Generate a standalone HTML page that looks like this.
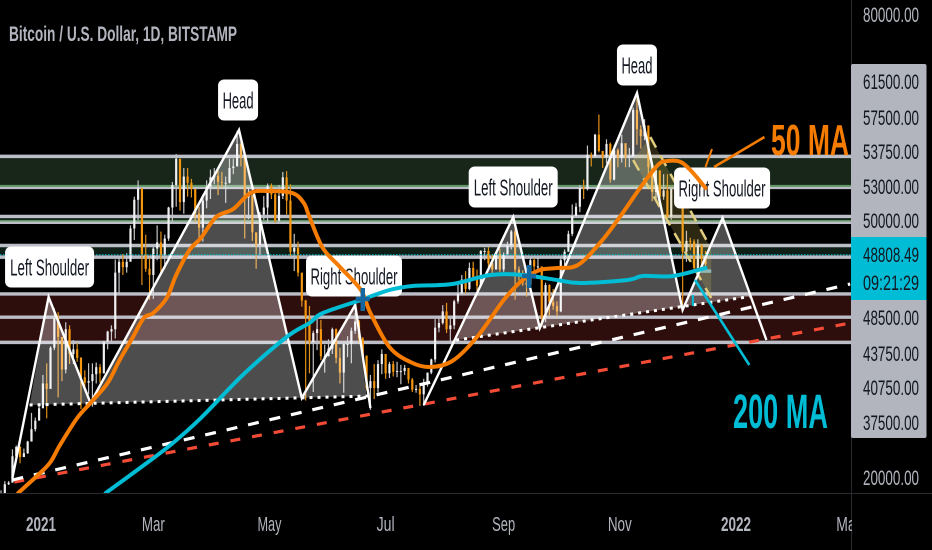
<!DOCTYPE html>
<html lang="en">
<head>
<meta charset="utf-8">
<title>Bitcoin / U.S. Dollar chart</title>
<style>
html,body{margin:0;padding:0;background:#000;width:932px;height:550px;overflow:hidden}
svg{display:block;font-family:"Liberation Sans",sans-serif}
</style>
</head>
<body>
<svg id="chart" xmlns="http://www.w3.org/2000/svg" width="932" height="550" viewBox="0 0 932 550">
  <defs><clipPath id="plot-clip"><rect x="0" y="0" width="851" height="493"/></clipPath></defs>
  <rect x="0" y="0" width="932" height="550" fill="#000"/>
  <g id="plot" clip-path="url(#plot-clip)"></g>
  <line x1="0" y1="493.5" x2="932" y2="493.5" stroke="#2a2b30"/>
  <line x1="851.5" y1="0" x2="851.5" y2="550" stroke="#2a2b30"/>

  <text x="9" y="41" font-size="21" font-weight="bold" fill="#b2b5be" textLength="228" lengthAdjust="spacingAndGlyphs">Bitcoin / U.S. Dollar, 1D, BITSTAMP</text>

  <text x="771" y="155" font-size="44" font-weight="bold" fill="#f57c00" textLength="78" lengthAdjust="spacingAndGlyphs">50 MA</text>
  <text x="733" y="428" font-size="48" font-weight="bold" fill="#00bcd4" textLength="95" lengthAdjust="spacingAndGlyphs">200 MA</text>

  <rect x="851" y="64" width="75.5" height="374" rx="2" fill="#b2b5be"/>
  <rect x="851" y="237" width="75.5" height="63" fill="#00bcd4"/>
  <g id="price-labels" font-size="21"></g>
  <g id="time-labels" font-size="20" fill="#b2b5be"></g>
</svg>
<script>
// Axis values
const timeLabels = ["2021", "Mar", "May", "Jul", "Sep", "Nov", "2022", "Mar"];
const timeLabelDays = [0, 59, 120, 181, 243, 304, 365, 424];
const priceLabels = ["80000.00", "61500.00", "57500.00", "53750.00", "53000.00", "50000.00", "48808.49", "09:21:29", "48500.00", "43750.00", "40750.00", "37500.00", "20000.00"];
// Horizontal support / resistance levels
const levels = [61500, 57500, 53750, 53000, 50000, 48500, 43750, 40750, 37500];
const currentPrice = 48808.49;
// Daily candles sampled every second day, in thousands of USD
const firstCandleDay = -21;
const closes = [
18.0,19.2,19.4,22.8,24.0,22.7,23.2,24.7,26.3,27.4,29.0,
32.2,31.5,36.8,40.6,38.2,34.0,39.2,36.0,36.6,35.5,33.0,32.3,32.5,33.4,34.3,
33.5,37.6,38.9,39.2,46.5,47.9,47.2,47.9,52.2,55.9,57.4,48.8,47.0,46.2,
49.6,50.4,48.8,50.9,54.9,57.8,61.2,55.6,58.9,58.1,57.3,54.1,52.3,55.8,57.6,58.8,
59.0,58.2,58.1,58.1,60.0,60.2,63.1,61.4,56.2,56.5,51.7,50.1,54.0,54.9,57.7,
56.6,53.2,56.4,58.8,55.8,49.2,49.7,46.5,42.9,40.7,37.5,38.7,39.2,35.7,35.7,
36.7,39.2,35.5,33.6,37.3,37.3,39.0,40.2,38.0,35.8,31.6,32.5,31.6,34.7,36.0,
33.5,34.7,33.7,33.8,33.8,34.2,32.7,31.4,31.5,30.8,32.1,33.6,35.3,39.4,40.0,41.5,
39.2,39.7,42.8,43.8,45.6,44.4,47.1,45.9,44.8,49.3,49.3,47.7,46.9,48.9,46.9,
48.8,50.0,51.8,46.9,46.1,45.2,44.9,48.1,47.3,47.3,40.7,44.9,42.7,42.2,41.5,
48.1,49.2,51.5,53.8,55.0,57.4,57.3,61.7,61.5,64.3,62.2,61.4,63.1,58.5,62.3,61.3,
63.2,61.4,61.5,67.5,65.0,64.1,65.5,60.1,56.9,59.7,56.3,57.1,53.7,57.3,57.0,
56.5,49.2,50.6,50.5,47.1,50.1,48.3,47.6];
const highs = [
18.4,19.6,19.6,23.7,24.2,24.1,23.8,24.8,28.4,27.8,29.3,
33.3,34.8,37.0,41.9,41.4,38.0,40.1,39.7,37.8,37.4,35.6,33.9,34.8,34.8,34.9,
34.7,37.7,39.0,39.7,48.2,48.6,48.9,49.0,52.6,56.3,58.4,54.2,51.4,48.4,
49.8,52.6,51.8,51.4,55.0,58.2,61.8,60.6,60.0,60.0,58.6,57.2,55.0,56.6,58.4,59.8,
60.0,59.8,59.5,58.9,61.2,61.2,64.8,63.5,60.4,57.5,55.4,51.2,54.3,56.4,58.0,
58.0,57.0,57.8,59.5,59.6,57.9,51.5,50.5,45.8,43.0,42.2,39.0,40.8,40.4,37.2,
37.9,39.4,39.3,36.8,37.6,38.3,39.4,41.3,40.4,38.2,35.6,33.3,34.7,35.2,36.6,
35.0,35.0,35.1,35.0,34.6,34.6,34.2,32.9,32.0,31.9,32.8,33.6,35.4,40.5,40.9,42.3,
42.6,40.6,43.0,45.3,46.2,46.7,47.8,47.9,46.9,49.4,49.7,49.8,48.9,49.2,49.6,
49.1,50.5,52.0,52.9,47.3,46.8,46.4,48.4,48.4,48.5,43.3,45.2,45.0,44.4,42.8,
48.5,49.5,51.9,55.3,55.5,57.8,58.5,62.9,62.0,64.4,66.9,61.7,63.7,63.3,62.9,62.5,
64.3,63.1,62.6,67.8,69.0,65.5,66.3,63.3,60.8,60.0,59.5,59.2,59.2,57.4,59.2,
57.3,53.9,51.9,51.0,50.8,50.8,48.6,49.3];
const lows = [
17.5,18.0,19.1,19.4,22.9,21.9,22.8,23.1,25.9,26.0,27.9,
29.0,27.7,33.9,36.5,30.4,32.5,33.5,34.7,34.7,35.0,28.9,31.4,30.8,29.2,32.2,
32.3,33.5,36.6,37.4,38.0,43.7,46.2,46.5,48.0,50.7,53.3,44.9,46.6,43.0,
43.1,48.1,46.4,47.0,50.6,53.1,55.0,54.5,54.1,56.3,56.2,53.0,51.0,50.5,54.8,56.0,
57.9,56.5,57.4,55.5,58.0,59.2,61.0,60.2,50.9,53.4,50.6,47.0,48.8,53.3,53.0,
56.0,52.9,53.0,56.0,54.0,48.6,46.7,46.0,42.1,30.0,33.5,31.1,36.5,35.2,33.6,
35.7,36.0,34.8,32.2,31.0,35.6,34.8,38.6,37.5,35.1,31.3,28.8,30.2,31.0,33.4,
32.8,32.9,33.1,33.0,32.1,33.3,32.2,31.1,31.0,29.3,29.3,31.8,33.4,34.9,38.8,39.8,
38.7,37.6,39.2,42.5,43.7,43.8,44.2,45.6,44.2,46.7,48.1,47.2,46.4,47.8,46.6,
46.6,48.4,49.5,43.0,45.5,44.8,43.4,44.7,46.7,46.8,39.6,40.1,40.9,41.7,40.8,
41.4,47.1,49.2,51.2,53.6,54.3,56.0,57.1,60.2,61.3,62.0,60.0,60.6,58.1,58.4,60.1,
60.7,60.1,60.1,63.3,63.0,62.5,63.6,58.6,55.7,55.7,55.7,55.9,53.6,53.3,56.6,
55.9,42.3,47.9,49.4,46.9,48.7,46.5,46.5];
// Moving averages (day since 1 Jan 2021, USD)
const ma50Days = [-12,-1,5,10,19,26,35,41,48,54,59,66,71,78,84,92,101,110,119,132,138,141,148,157,168,173,183,194,204,216,229,243,253,262,271,282,294,304,315,324,329,336,342,349];
const ma50Values = [18060,20520,22060,24260,27740,29680,32260,35100,38060,40650,41290,43230,46190,49420,50970,53680,54710,56770,57030,56770,55480,53680,49680,47230,44260,41290,36900,34970,34320,35100,38190,42970,45550,46840,47100,47480,50450,53680,57550,60390,60900,60770,59480,57420];
const ma200Days = [34,52,68,84,106,129,141,148,168,183,195,216,236,253,271,283,308,316,332,349];
const ma200Values = [18060,21290,24260,27740,33290,38190,40000,41290,42970,44260,44770,45030,46190,46190,45550,45160,45550,46060,46060,47100];
// Head-and-shoulders drawings
const pattern1Days = [-15,4,26,104,137,165,173];
const pattern1Prices = [20000,43350,29680,64900,30320,42320,29030];
const pattern1NeckDays = [-6,173];
const pattern1NeckPrices = [29420,30580];
const pattern2Days = [201,248,262,313,337,358,381];
const pattern2Prices = [29420,53680,39350,69680,41680,53550,37810];
const pattern2NeckDays = [218,372];
const pattern2NeckPrices = [37800,43400];
// Trend lines and annotation strokes
const whiteTrendDays = [-15,425];
const whiteTrendPrices = [19740,45030];
const redTrendDays = [-14,425];
const redTrendPrices = [19480,40000];
const channelDays = [320,350.3,352,352,311];
const channelPrices = [64000,50320,49400,43230,61030];
const ma50ArrowDays = [380,353.5];
const ma50ArrowPrices = [64000,60130];
const ma50TickDays = [352.4,349];
const ma50TickPrices = [62450,60130];
const ma200ArrowDays = [343.5,372];
const ma200ArrowPrices = [45550,34580];
const ma200TickDays = [342.4,342.4];
const ma200TickPrices = [43610,42190];
const crossDays = [169,256.3];
const crossPrices = [43100,46060];
const channelMarkDays = [345,352];
const channelMarkPrices = [46700,46700];
// Pattern labels
const noteTexts = ["Head", "Left Shoulder", "Right Shoulder", "Left Shoulder", "Head", "Right Shoulder"];
const noteCenterDays = [103.5, 4.5, 164.4, 248, 313, 357.7];
const noteCenterPrices = [68770, 47230, 46060, 57550, 73290, 57420];
const noteWidths = [40, 89, 96, 89, 40, 96];
const noteTextWidths = [31, 79, 87, 79, 31, 87];

// Axis functions
function xAt(day){ return 41 + 1.904 * day; }
function yAt(price){ return 478 - (price - 20000) * 0.00775; }
function pts(days, prices){ return days.map(function(d,i){ return xAt(d).toFixed(1) + ',' + yAt(prices[i]).toFixed(1); }).join(' '); }
function smooth(days, prices){
  const P = days.map(function(d,i){ return [xAt(d), yAt(prices[i])]; });
  let s = 'M' + P[0][0].toFixed(1) + ' ' + P[0][1].toFixed(1);
  for (let i = 0; i < P.length - 1; i++){
    const a = P[Math.max(i-1,0)], b = P[i], c = P[i+1], d = P[Math.min(i+2,P.length-1)];
    s += 'C' + (b[0]+(c[0]-a[0])/6).toFixed(1) + ' ' + (b[1]+(c[1]-a[1])/6).toFixed(1) + ' ' +
         (c[0]-(d[0]-b[0])/6).toFixed(1) + ' ' + (c[1]-(d[1]-b[1])/6).toFixed(1) + ' ' +
         c[0].toFixed(1) + ' ' + c[1].toFixed(1);
  }
  return s;
}

const NS = 'http://www.w3.org/2000/svg';
const plot = document.getElementById('plot');
function mk(tag, attrs, parent){
  const el = document.createElementNS(NS, tag);
  for (const k in attrs) el.setAttribute(k, attrs[k]);
  (parent || plot).appendChild(el);
  return el;
}
function band(top, bottom, color){
  return mk('rect', {x:0, y:yAt(top), width:851, height:yAt(bottom)-yAt(top), fill:color});
}
let el;

el = band(levels[0], levels[1], '#18261a');


el = band(levels[2], levels[3], '#18261a');


el = band(levels[4], levels[5], '#0e1f18');


el = band(levels[6], levels[8], '#2e0e0c');



levels.forEach(function(p){
  const l = mk('line', {x1:0, x2:851, y1:yAt(p), y2:yAt(p), stroke:'#bcbec7', 'stroke-width':3.4});
  
  
});
el = mk('line', {x1:0, x2:851, y1:yAt(levels[1])-1.5, y2:yAt(levels[1])-1.5, stroke:'#5f9563', 'stroke-width':2});


el = mk('line', {x1:0, x2:851, y1:yAt(levels[3])-1.5, y2:yAt(levels[3])-1.5, stroke:'#5f9563', 'stroke-width':1.5});



// Candles
closes.forEach(function(c, i){
  const day = firstCandleDay + 2 * i;
  const open = i ? closes[i-1] : c;
  const up = c >= open;
  const color = up ? '#f0f0f2' : '#f5960f';
  const x = xAt(day);
  const wick = mk('line', {x1:x, x2:x, y1:yAt(highs[i]*1000), y2:yAt(lows[i]*1000), stroke: up ? '#c4c4c8' : '#e08f18', 'stroke-width':1.2});
  
  
  const top = yAt(Math.max(open,c)*1000), bot = yAt(Math.min(open,c)*1000);
  const body = mk('rect', {x:x-1.1, y:top, width:2.2, height:Math.max(1,bot-top), fill:color});
  
  
});

// Pattern fills
el = mk('polygon', {points: pts(
  [pattern1NeckDays[0]].concat(pattern1Days.slice(1,6), [171]),
  [pattern1NeckPrices[0]].concat(pattern1Prices.slice(1,6), [pattern1NeckPrices[1]])), fill:'rgba(255,255,255,.3)'});


el = mk('polygon', {points: pts(
  [pattern2NeckDays[0]].concat(pattern2Days.slice(1,6), [pattern2NeckDays[1]]),
  [pattern2NeckPrices[0]].concat(pattern2Prices.slice(1,6), [pattern2NeckPrices[1]])), fill:'rgba(255,255,255,.3)'});



// Falling channel
el = mk('polygon', {points: pts(channelDays, channelPrices), fill:'rgba(224,200,90,.2)'});


el = mk('polyline', {points: pts(channelDays.slice(0,2), channelPrices.slice(0,2)), fill:'none', stroke:'#e0cd80', 'stroke-width':2.5, 'stroke-dasharray':'12 9'});


el = mk('polyline', {points: pts([channelDays[4],channelDays[3]], [channelPrices[4],channelPrices[3]]), fill:'none', stroke:'#e0cd80', 'stroke-width':2.5, 'stroke-dasharray':'12 9'});


el = mk('polyline', {points: pts(channelMarkDays, channelMarkPrices), fill:'none', stroke:'#8fb8b4', 'stroke-width':3.5});



// Trend lines
el = mk('polyline', {points: pts(redTrendDays, redTrendPrices), fill:'none', stroke:'#f44b36', 'stroke-width':3.2, 'stroke-dasharray':'10 12'});


el = mk('polyline', {points: pts(whiteTrendDays, whiteTrendPrices), fill:'none', stroke:'#fff', 'stroke-width':3.2, 'stroke-dasharray':'11 11'});



// Pattern outlines and necklines
el = mk('polyline', {points: pts(pattern1Days, pattern1Prices), fill:'none', stroke:'#fff', 'stroke-width':2.4});


el = mk('polyline', {points: pts(pattern2Days, pattern2Prices), fill:'none', stroke:'#fff', 'stroke-width':2.4});


el = mk('polyline', {points: pts(pattern1NeckDays, pattern1NeckPrices), fill:'none', stroke:'#fff', 'stroke-width':3, 'stroke-dasharray':'3 5'});


el = mk('polyline', {points: pts(pattern2NeckDays, pattern2NeckPrices), fill:'none', stroke:'#fff', 'stroke-width':3, 'stroke-dasharray':'3 5'});



// Current price dotted line
el = mk('line', {x1:0, x2:851, y1:yAt(currentPrice), y2:yAt(currentPrice), stroke:'#00bcd4', 'stroke-width':1, 'stroke-dasharray':'1.5 1.5'});



// Pattern labels sit beneath the moving averages
const notes = mk('g', {});


noteTexts.forEach(function(t, i){
  const cx = xAt(noteCenterDays[i]), cy = yAt(noteCenterPrices[i]);
  const r = mk('rect', {x:cx-noteWidths[i]/2, y:cy-20.5, width:noteWidths[i], height:41, rx:6, fill:'#fff'}, notes);
  
  
  const tx = mk('text', {x:cx, y:cy+8.5, 'text-anchor':'middle', 'font-size':23, fill:'#131722', textLength:noteTextWidths[i], lengthAdjust:'spacingAndGlyphs'}, notes);
  tx.textContent = t;
  
  
});

// Moving averages
el = mk('path', {d: smooth(ma200Days, ma200Values), fill:'none', stroke:'#00bcd4', 'stroke-width':4, 'stroke-linejoin':'round', 'stroke-linecap':'round'});


el = mk('path', {d: smooth(ma50Days, ma50Values), fill:'none', stroke:'#f57c00', 'stroke-width':4, 'stroke-linejoin':'round', 'stroke-linecap':'round'});



// Annotation strokes
el = mk('polyline', {points: pts(ma50ArrowDays, ma50ArrowPrices), fill:'none', stroke:'#f57c00', 'stroke-width':2.6});


el = mk('polyline', {points: pts(ma50TickDays, ma50TickPrices), fill:'none', stroke:'#f57c00', 'stroke-width':2});


el = mk('polyline', {points: pts(ma200ArrowDays, ma200ArrowPrices), fill:'none', stroke:'#00bcd4', 'stroke-width':2.6});


el = mk('polyline', {points: pts(ma200TickDays, ma200TickPrices), fill:'none', stroke:'#00bcd4', 'stroke-width':2});



// Moving-average cross markers
crossDays.forEach(function(d, i){
  const cx = xAt(d), cy = yAt(crossPrices[i]);
  const m = mk('path', {d:'M'+cx+' '+(cy-11)+'V'+(cy+12)+'M'+(cx-7)+' '+cy+'H'+(cx+7), stroke:'#14689f', 'stroke-width':4.5, fill:'none'});
  
  
});

// Price axis labels
const priceBaselines = [22, 89, 125, 159, 194, 228, 262, 290, 325, 361, 395, 430, 485];
const priceGroup = document.getElementById('price-labels');
priceLabels.forEach(function(t, i){
  const outside = (i === 0 || i === priceLabels.length - 1);
  const tx = mk('text', {x:863, y:priceBaselines[i], fill: outside ? '#b2b5be' : '#131722', textLength:56, lengthAdjust:'spacingAndGlyphs'}, priceGroup);
  tx.textContent = t;
  
  
});

// Time axis labels
const timeLabelWidths = [30, 23, 24, 18, 23, 24, 30, 24];
const timeGroup = document.getElementById('time-labels');
timeLabels.forEach(function(t, i){
  const isYear = /^\d/.test(t);
  const tx = mk('text', {x:xAt(timeLabelDays[i]), y:531, 'text-anchor':'middle', 'font-weight': isYear ? 'bold' : 'normal', textLength: timeLabelWidths[i], lengthAdjust:'spacingAndGlyphs'}, timeGroup);
  tx.textContent = t;
  
  
});
// Cover the clipped month label where it runs under the price axis
el = mk('rect', {x:852, y:495, width:80, height:55, fill:'#000'}, timeGroup);


</script>
</body>
</html>
